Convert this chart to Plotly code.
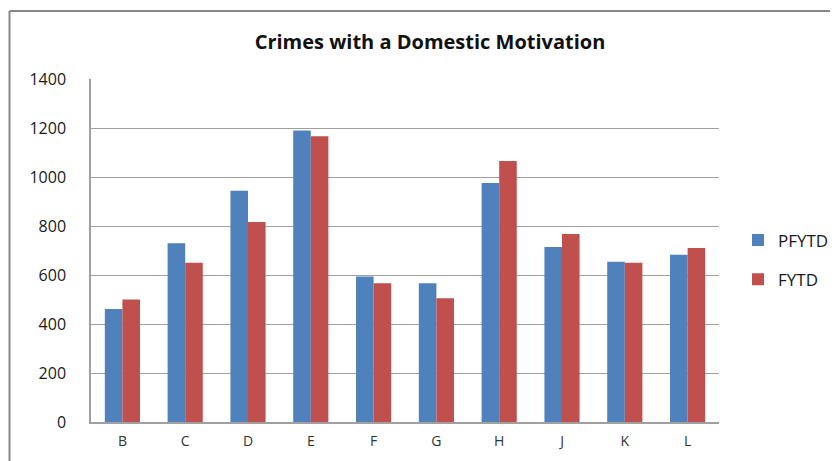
import plotly.graph_objects as go

categories = ["B", "C", "D", "E", "F", "G", "H", "J", "K", "L"]
pfytd = [461, 730, 944, 1190, 594, 566, 976, 714, 654, 683]
fytd = [500, 650, 816, 1166, 566, 505, 1065, 767, 650, 710]
y_ticks = [0, 200, 400, 600, 800, 1000, 1200, 1400]

# page offset of 8px from the default body margin
OFF = 8
W, H = 838 - OFF, 461 - OFF
L, R, T, B = 91 - OFF, 838 - 719, 79 - OFF, 461 - 422
pw, ph = W - L - R, H - T - B


def px_x(x):
    return (x - OFF - L) / pw


def px_y(y):
    return (H - B - (y - OFF)) / ph


fig = go.Figure()
fig.add_trace(go.Bar(name="PFYTD", x=categories, y=pfytd, legendgroup="a",
                     marker=dict(color="#4F81BD", line=dict(width=0))))
fig.add_trace(go.Bar(name="FYTD", x=categories, y=fytd, legendgroup="b",
                     marker=dict(color="#C0504D", line=dict(width=0))))

fig.update_layout(
    width=W, height=H,
    margin=dict(l=L, r=R, t=T, b=B, autoexpand=False),
    paper_bgcolor="white", plot_bgcolor="white",
    barmode="group", bargap=0.44, bargroupgap=0,
    font=dict(family="Open Sans, sans-serif", color="#222"),
    title=dict(text="<b>Crimes with a Domestic Motivation</b>", x=px_x(430), xref="paper",
               xanchor="center", y=1 - (42 - OFF) / H, yanchor="middle",
               font=dict(size=20, family="Open Sans, sans-serif", color="#111")),
    showlegend=True,
    legend=dict(x=px_x(738), y=px_y(260), xanchor="left", yanchor="middle",
                font=dict(size=17, color="#1a1a1a"), itemwidth=30, tracegroupgap=14,
                bgcolor="rgba(0,0,0,0)"),
    xaxis=dict(showline=True, linecolor="#A0A0A0", linewidth=1.5, ticks="",
               ticklabelstandoff=5,
               tickfont=dict(size=14, color="#333"), showgrid=False),
    yaxis=dict(range=[0, 1400], tickvals=y_ticks, showgrid=True, gridcolor="#A0A0A0",
               gridwidth=1, showline=True, linecolor="#A0A0A0", linewidth=1.5,
               zeroline=False, ticks="", ticklabelstandoff=20,
               tickfont=dict(size=16, color="#1a1a1a")),
)

# outer chart border (left and top only visible)
fig.add_shape(type="line", xref="paper", yref="paper",
              x0=px_x(9.5), x1=px_x(9.5), y0=px_y(11), y1=px_y(480),
              line=dict(color="#888888", width=2))
fig.add_shape(type="line", xref="paper", yref="paper",
              x0=px_x(9.5), x1=px_x(860), y0=px_y(11), y1=px_y(11),
              line=dict(color="#888888", width=2))

fig.write_html("out.html")
